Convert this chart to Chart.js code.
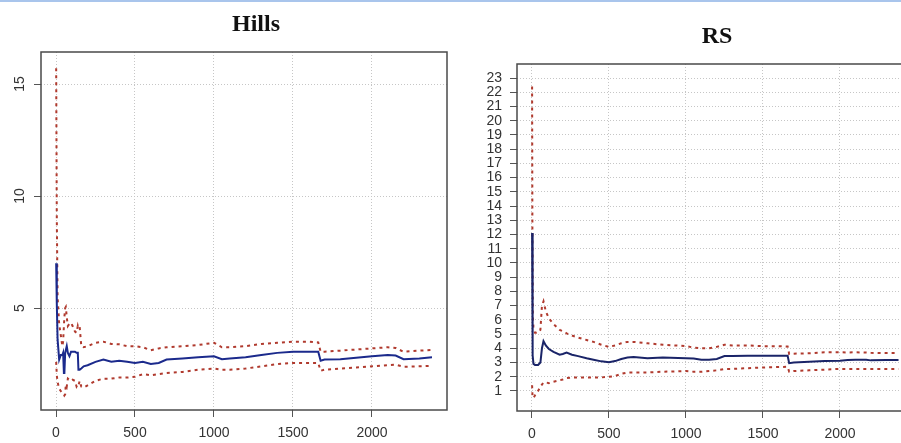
<!DOCTYPE html>
<html>
<head>
<meta charset="utf-8">
<script src="https://cdn.jsdelivr.net/npm/chart.js@4.4.0/dist/chart.umd.min.js"></script>
<style>
html, body { margin: 0; padding: 0; background: #fff; }
body { width: 901px; height: 443px; overflow: hidden; position: relative; }
#topLine { position: absolute; left: 0; top: 0; width: 901px; height: 2px; background: #a9c5ec; }
.title { position: absolute; width: 200px; text-align: center; font: bold 24px "Liberation Serif", serif; line-height: 24px; color: #111; }
#hillsWrap { position: absolute; left: 0; top: 0; width: 455px; height: 443px; }
#rsWrap { position: absolute; left: 460px; top: 0; width: 460px; height: 443px; }
</style>
</head>
<body>
<div id="topLine"></div>
<div id="hillsWrap"><canvas id="hillsChart" width="455" height="443"></canvas></div>
<div id="rsWrap"><canvas id="rsChart" width="460" height="443"></canvas></div>
<div class="title" style="left:156px;top:11px">Hills</div>
<div class="title" style="left:617px;top:23px">RS</div>

<script>
// Hills panel data
const hillsX     = [1, 5, 10, 20, 30, 40, 45, 50, 53, 58, 62, 68, 75, 85, 95, 105, 120, 130, 138, 142, 150, 160, 175, 200, 250, 300, 350, 400, 450, 500, 550, 600, 650, 700, 800, 900, 1000, 1050, 1100, 1200, 1300, 1400, 1500, 1600, 1660, 1675, 1700, 1800, 1900, 2000, 2100, 2150, 2200, 2300, 2380];
const hillsMean  = [7.0, 5.2, 3.6, 2.7, 2.9, 2.9, 3.0, 2.1, 2.1, 3.0, 3.0, 3.3, 3.0, 2.85, 3.05, 3.05, 3.05, 3.0, 3.0, 2.25, 2.25, 2.3, 2.4, 2.45, 2.6, 2.7, 2.6, 2.65, 2.6, 2.55, 2.6, 2.5, 2.55, 2.7, 2.75, 2.8, 2.85, 2.72, 2.75, 2.8, 2.9, 3.0, 3.05, 3.05, 3.05, 2.65, 2.7, 2.72, 2.78, 2.85, 2.9, 2.88, 2.72, 2.75, 2.8];
const hillsUpper = [15.7, 9.0, 5.5, 4.3, 3.8, 3.3, 3.5, 4.2, 4.6, 5.0, 5.05, 4.6, 4.2, 4.3, 4.35, 4.2, 3.95, 3.9, 4.2, 4.1, 4.15, 3.3, 3.25, 3.3, 3.45, 3.5, 3.4, 3.38, 3.3, 3.3, 3.25, 3.12, 3.2, 3.25, 3.3, 3.35, 3.45, 3.25, 3.25, 3.3, 3.4, 3.45, 3.5, 3.5, 3.47, 3.05, 3.05, 3.1, 3.15, 3.2, 3.25, 3.22, 3.05, 3.1, 3.13];
const hillsLower = [2.6, 2.0, 1.7, 1.4, 1.3, 1.2, 1.2, 1.15, 1.1, 1.15, 1.6, 1.5, 1.85, 1.8, 1.75, 1.8, 1.75, 1.5, 1.6, 1.55, 1.75, 1.5, 1.45, 1.55, 1.75, 1.85, 1.85, 1.9, 1.9, 1.93, 2.05, 2.0, 2.05, 2.1, 2.15, 2.25, 2.3, 2.25, 2.25, 2.3, 2.4, 2.5, 2.55, 2.55, 2.55, 2.2, 2.25, 2.3, 2.35, 2.4, 2.45, 2.47, 2.38, 2.4, 2.42];
const hillsXTicks = [0, 500, 1000, 1500, 2000];
const hillsYTicks = [5, 10, 15];

// RS panel data
const rsX     = [1, 3, 6, 10, 20, 40, 55, 65, 75, 90, 110, 140, 180, 200, 225, 260, 300, 355, 400, 450, 500, 540, 580, 620, 660, 750, 850, 1000, 1050, 1100, 1150, 1200, 1250, 1300, 1400, 1500, 1600, 1660, 1670, 1700, 1800, 1900, 2000, 2050, 2100, 2170, 2200, 2300, 2380];
const rsMean  = [12.1, 6.0, 3.5, 2.9, 2.83, 2.83, 3.0, 4.0, 4.5, 4.2, 3.95, 3.75, 3.55, 3.6, 3.7, 3.55, 3.45, 3.3, 3.2, 3.08, 3.02, 3.1, 3.25, 3.35, 3.38, 3.3, 3.35, 3.3, 3.28, 3.2, 3.2, 3.25, 3.45, 3.45, 3.47, 3.47, 3.47, 3.47, 2.95, 3.0, 3.05, 3.1, 3.12, 3.18, 3.2, 3.2, 3.15, 3.18, 3.18];
const rsUpper = [22.4, 12.0, 6.0, 5.5, 5.1, 5.1, 5.3, 7.0, 7.3, 6.6, 6.1, 5.7, 5.3, 5.2, 5.05, 4.9, 4.75, 4.58, 4.45, 4.25, 4.1, 4.2, 4.35, 4.45, 4.45, 4.35, 4.25, 4.15, 4.05, 4.0, 4.0, 4.1, 4.25, 4.2, 4.2, 4.15, 4.15, 4.12, 3.6, 3.62, 3.65, 3.72, 3.72, 3.7, 3.72, 3.7, 3.68, 3.66, 3.66];
const rsLower = [1.4, 0.8, 0.55, 0.5, 0.7, 1.0, 1.3, 1.45, 1.6, 1.6, 1.55, 1.65, 1.75, 1.8, 1.9, 1.95, 1.95, 1.95, 1.95, 1.95, 2.0, 2.05, 2.2, 2.3, 2.3, 2.3, 2.35, 2.4, 2.35, 2.35, 2.4, 2.45, 2.55, 2.55, 2.6, 2.65, 2.68, 2.7, 2.35, 2.4, 2.45, 2.5, 2.55, 2.55, 2.55, 2.55, 2.55, 2.55, 2.55];
const rsXTicks = [0, 500, 1000, 1500, 2000];
const rsYTicks = [1, 2, 3, 4, 5, 6, 7, 8, 9, 10, 11, 12, 13, 14, 15, 16, 17, 18, 19, 20, 21, 22, 23];

const tickFont = { family: "Liberation Sans", size: 14 };
const labelColor = "#333";

function toPoints(xs, ys) {
  return xs.map((x, i) => ({ x: x, y: ys[i] }));
}

function series(xs, mean, upper, lower, blue) {
  return [
    { data: toPoints(xs, mean), borderColor: blue, borderWidth: 2, pointRadius: 0, tension: 0 },
    { data: toPoints(xs, upper), borderColor: "#b03a2e", borderWidth: 2, borderDash: [3, 4], pointRadius: 0, tension: 0 },
    { data: toPoints(xs, lower), borderColor: "#b03a2e", borderWidth: 2, borderDash: [3, 4], pointRadius: 0, tension: 0 }
  ];
}

function axis(min, max, ticks, fit, showLabels) {
  return {
    type: "linear", min: min, max: max,
    afterBuildTicks: s => { s.ticks = ticks.map(v => ({ value: v })); },
    afterFit: fit,
    grid: { color: "#c6c6c6", lineWidth: 1, tickColor: "#555", tickLength: 7 },
    border: { display: false, dash: [1, 2] },
    ticks: { display: showLabels, color: labelColor, font: tickFont, padding: 8, maxRotation: 0, autoSkip: false, callback: v => String(v) }
  };
}

// box round the plot region
const boxPlugin = {
  id: "box",
  afterDraw(chart) {
    const a = chart.chartArea, ctx = chart.ctx;
    ctx.save();
    ctx.strokeStyle = "#4a4a4a";
    ctx.lineWidth = 1.5;
    ctx.strokeRect(a.left, a.top, a.right - a.left, a.bottom - a.top);
    ctx.restore();
  }
};

// Hills y labels are rotated like R's default axis
const hillsYLabels = {
  id: "hillsYLabels",
  afterDraw(chart) {
    const ctx = chart.ctx, y = chart.scales.y;
    ctx.save();
    ctx.fillStyle = labelColor;
    ctx.font = "14px 'Liberation Sans'";
    ctx.textAlign = "center";
    ctx.textBaseline = "alphabetic";
    hillsYTicks.forEach(v => {
      ctx.save();
      ctx.translate(24, y.getPixelForValue(v));
      ctx.rotate(-Math.PI / 2);
      ctx.fillText(String(v), 0, 0);
      ctx.restore();
    });
    ctx.restore();
  }
};

const baseOptions = {
  responsive: false,
  animation: false,
  plugins: { legend: { display: false }, tooltip: { enabled: false } }
};

new Chart(document.getElementById("hillsChart"), {
  type: "line",
  data: { datasets: series(hillsX, hillsMean, hillsUpper, hillsLower, "#1b2a8c") },
  options: Object.assign({}, baseOptions, {
    layout: { padding: { top: 52, right: 8, left: 0, bottom: 0 } },
    scales: {
      x: axis(-95, 2475, hillsXTicks, s => { s.height = 33; }, true),
      y: axis(0.45, 16.43, hillsYTicks, s => { s.width = 41; }, false)
    }
  }),
  plugins: [boxPlugin, hillsYLabels]
});

new Chart(document.getElementById("rsChart"), {
  type: "line",
  data: { datasets: series(rsX, rsMean, rsUpper, rsLower, "#1a2468") },
  options: Object.assign({}, baseOptions, {
    layout: { padding: { top: 64, right: 7, left: 0, bottom: 0 } },
    scales: {
      x: axis(-97, 2474, rsXTicks, s => { s.height = 32; }, true),
      y: axis(-0.41, 23.99, rsYTicks, s => { s.width = 57; }, true)
    }
  }),
  plugins: [boxPlugin]
});
</script>
</body>
</html>
